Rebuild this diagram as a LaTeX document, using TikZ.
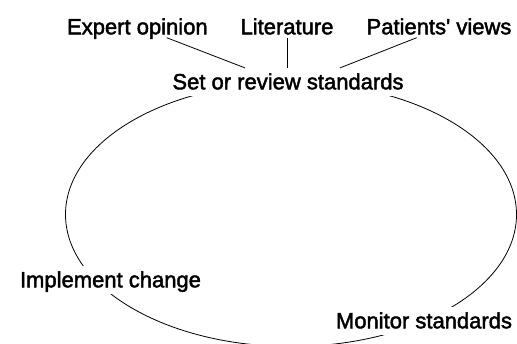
\documentclass[tikz,border=0pt]{standalone}
\usepackage{fontspec}
\setmainfont{Liberation Sans}[Ligatures=TeXOff, FakeBold=2]
\tikzset{every node/.style={anchor=base, font=\fontsize{22}{26}\selectfont},
  source/.style={inner sep=3pt, text depth=0pt},
  stage/.style={fill=white, inner sep=7pt, text height=14pt, text depth=0pt}}

\begin{document}
\begin{tikzpicture}[x=1pt, y=1pt, line width=0.8pt]
  \useasboundingbox (0,0) rectangle (517,343);
  \clip (0,0) rectangle (517,343);
  % audit cycle
  \draw (291,128.5) ellipse [x radius=225.5, y radius=132];
  \node [stage] (setstd) at (288,253.7) {Set or review standards};
  \node [stage] (implement) at (110.5,55.7) {Implement change};
  \node [stage] (monitor) at (424,14.7) {Monitor standards};
  % inputs to the standards
  \node [source] (expert) at (137.4,308.7) {Expert opinion};
  \node [source] (lit) at (287,308.7) {Literature};
  \node [source] (patients) at (439,308.7) {Patients' views};
  \draw ([xshift=29.3pt]expert.south) -- ([xshift=-43pt]setstd.north);
  \draw (lit.south) -- (lit.south |- setstd.north);
  \draw ([xshift=-22.3pt]patients.south) -- ([xshift=52pt]setstd.north);
\end{tikzpicture}
\end{document}
